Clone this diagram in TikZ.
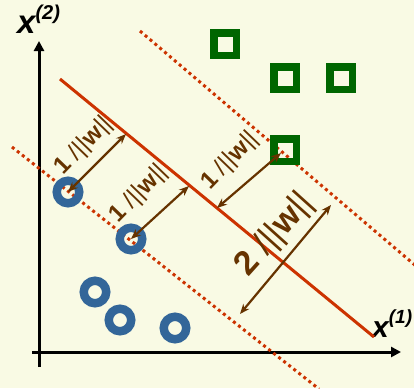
\documentclass[tikz,border=0pt]{standalone}
\usepackage{fontspec}
\setmainfont{Liberation Sans}
\usetikzlibrary{arrows.meta}
\definecolor{bg}{RGB}{249,250,228}
\definecolor{ringblue}{RGB}{51,102,153}
\definecolor{sqgreen}{RGB}{0,102,0}
\definecolor{hred}{RGB}{204,51,0}
\definecolor{marbrown}{RGB}{102,51,0}
\begin{document}
\begin{tikzpicture}[x=1pt,y=-1pt,
  axis/.style={line width=3pt,-{Triangle[length=10pt,width=10pt]}},
  hyper/.style={hred,line width=3pt},
  margin/.style={hred,line width=3pt,dash pattern=on 3pt off 3.4pt},
  ring/.style={circle,draw=ringblue,line width=8.5pt,minimum size=22.5pt,inner sep=0pt},
  box/.style={rectangle,draw=sqgreen,line width=7.5pt,minimum size=22.5pt,inner sep=0pt},
  dist/.style={marbrown,line width=2.2pt,{Stealth[length=10pt,width=8pt]}-{Stealth[length=10pt,width=8pt]}},
  lab/.style={marbrown,inner sep=0pt,font=\fontsize{24}{24}\selectfont},
  biglab/.style={marbrown,inner sep=0pt,font=\fontsize{34}{34}\selectfont},
  axlab/.style={inner sep=0pt,anchor=base west,font=\bfseries\itshape},
]
\useasboundingbox (0,0) rectangle (414,388);
\fill[bg] (0,0) rectangle (414,388);
% axes
\coordinate (o1) at (39,367);
\coordinate (yt) at (39,41);
\coordinate (o2) at (32,352);
\coordinate (xt) at (401,352);
\draw[axis] (o1) -- (yt);
\draw[axis] (o2) -- (xt);
\node[axlab] (ylab) at (17,33) {\fontsize{33}{33}\selectfont x\raisebox{0.42em}{\fontsize{20}{20}\selectfont(2)}};
\node[axlab] (xlab) at (372,337) {\fontsize{30}{30}\selectfont x\raisebox{0.45em}{\fontsize{19}{19}\selectfont(1)}};
% hyperplane and margins
\coordinate (h1) at (60,79);
\coordinate (h2) at (374,337);
\coordinate (u1) at (140,31);
\coordinate (u2) at (416,266);
\coordinate (l1) at (12,147);
\coordinate (l2) at (319,389);
\draw[margin] (u1) -- (u2);
\draw[margin] (l1) -- (l2);
\draw[hyper] (h1) -- (h2);
% data points
\node[ring] (c1) at (68,192) {};
\node[ring] (c2) at (131,239) {};
\node[ring] (c3) at (95,292) {};
\node[ring] (c4) at (120,320) {};
\node[ring] (c5) at (175,328) {};
\node[box] (s1) at (225,44) {};
\node[box] (s2) at (285,78) {};
\node[box] (s3) at (341,78) {};
\node[box] (s4) at (285,150) {};
% distance arrows
\coordinate (p1) at (126,134);
\coordinate (p2) at (189,186);
\coordinate (p3) at (217,208);
\coordinate (q3) at (281,153);
\coordinate (q4a) at (240,314);
\coordinate (q4b) at (331,205);
\draw[dist] (c1.center) -- (p1);
\draw[dist] (c2.center) -- (p2);
\draw[dist] (p3) -- (q3);
\draw[dist] (q4a) -- (q4b);
\node[lab,rotate=46] (t1) at (84,146) {\textbf{1} /||\textbf{w}||};
\node[lab,rotate=46] (t2) at (139,194) {\textbf{1} /||\textbf{w}||};
\node[lab,rotate=46] (t3) at (230,161) {\textbf{1} /||\textbf{w}||};
\node[biglab,rotate=48] (t4) at (275,235) {\textbf{2} /||\textbf{w}||};
\end{tikzpicture}
\end{document}
